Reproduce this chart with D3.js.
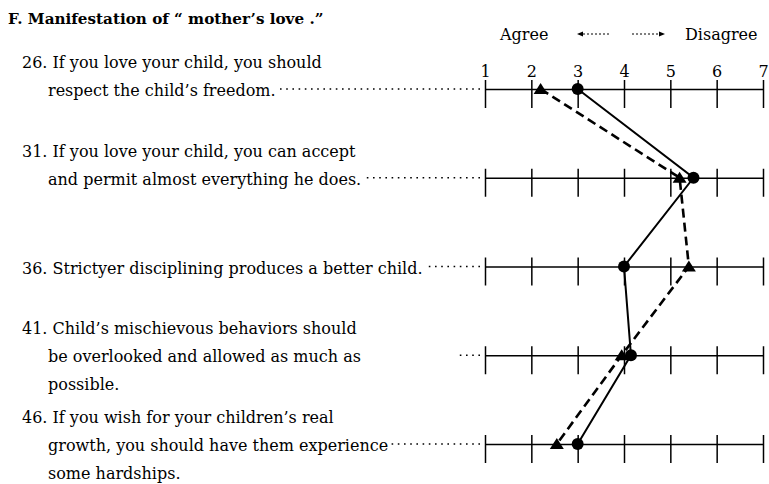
<!DOCTYPE html>
<html>
<head>
<meta charset="utf-8">
<script src="https://cdn.jsdelivr.net/npm/d3@7"></script>
<style>
  body { margin: 0; background: #fff; }
  text { fill: #000; }
</style>
</head>
<body>
<svg id="chart" width="769" height="484"></svg>
<script>
// ---------------- DATA ----------------
const titleText = "F. Manifestation of \u201C mother\u2019s love .\u201D";
const agreeLabel = "Agree";
const disagreeLabel = "Disagree";
const scaleTicks = [1, 2, 3, 4, 5, 6, 7];
const itemLines = [
  ["26. If you love your child, you should", "respect the child\u2019s freedom."],
  ["31. If you love your child, you can accept", "and permit almost everything he does."],
  ["36. Strictyer disciplining produces a better child."],
  ["41. Child\u2019s mischievous behaviors should", "be overlooked and allowed as much as", "possible."],
  ["46. If you wish for your children\u2019s real", "growth, you should have them experience", "some hardships."]
];
const leaderLineIndex = [1, 1, 0, 1, 1];
const leaderShort = [false, false, false, true, false];
const circleSeries = [3.0, 5.5, 4.0, 4.15, 3.0];
const triangleSeries = [2.2, 5.2, 5.4, 3.95, 2.55];

// ---------------- LAYOUT ----------------
const W = 769, H = 484;
const serif = "'DejaVu Serif', 'Liberation Serif', serif";
const svg = d3.select("#chart").attr("width", W).attr("height", H);

const x = d3.scaleLinear().domain([1, 7]).range([485, 763]);
const y = d3.scalePoint().domain(d3.range(itemLines.length)).range([89, 444]);
const lineGap = 28;

// Title
svg.append("text")
  .attr("x", 8).attr("y", 24)
  .style("font-family", serif).style("font-weight", "bold").style("font-size", "15.2px")
  .text(titleText);

// Agree / Disagree header
svg.append("text").attr("x", 500).attr("y", 40)
  .style("font-family", serif).style("font-size", "16px").text(agreeLabel);
svg.append("text").attr("x", 685).attr("y", 40)
  .style("font-family", serif).style("font-size", "16px").text(disagreeLabel);

const arrowY = 34;
const arr = svg.append("g").attr("stroke", "#000");
arr.append("line").attr("x1", 583).attr("x2", 611).attr("y1", arrowY).attr("y2", arrowY)
  .attr("stroke-width", 1).attr("stroke-dasharray", "2,2");
arr.append("path").attr("d", `M577,${arrowY}l6,-2.6v5.2z`).attr("fill", "#000").attr("stroke", "none");
arr.append("line").attr("x1", 632).attr("x2", 659).attr("y1", arrowY).attr("y2", arrowY)
  .attr("stroke-width", 1).attr("stroke-dasharray", "2,2");
arr.append("path").attr("d", `M665,${arrowY}l-6,-2.6v5.2z`).attr("fill", "#000").attr("stroke", "none");

// Axes (one per statement)
itemLines.forEach((_, i) => {
  const g = svg.append("g")
    .attr("transform", `translate(0,${y(i)})`)
    .call(d3.axisBottom(x).tickValues(scaleTicks).tickSizeOuter(0).tickSizeInner(19)
      .tickFormat(i === 0 ? d3.format("d") : () => ""));
  g.select(".domain").attr("stroke", "#000").attr("stroke-width", 1.5);
  g.selectAll(".tick line").attr("y1", -9).attr("y2", 19).attr("stroke", "#000").attr("stroke-width", 1.5);
  g.selectAll(".tick text")
    .attr("y", -12).attr("dy", 0)
    .style("font-family", serif).style("font-size", "16px").attr("fill", "#000");
});

// Statement texts with leader dots
itemLines.forEach((lines, i) => {
  lines.forEach((ln, j) => {
    const tx = j === 0 ? 22 : 48;
    const ty = y(i) + 7 + (j - leaderLineIndex[i]) * lineGap;
    const t = svg.append("text")
      .attr("x", tx).attr("y", ty)
      .style("font-family", serif).style("font-size", "16px")
      .text(ln);
    if (j === leaderLineIndex[i]) {
      const endX = x(1) - 5;
      const startX = leaderShort[i] ? endX - 21 : tx + t.node().getComputedTextLength() + 3;
      svg.append("line")
        .attr("x1", endX).attr("x2", startX)
        .attr("y1", y(i)).attr("y2", y(i))
        .attr("stroke", "#000").attr("stroke-width", 1.6)
        .attr("stroke-dasharray", "1.6,4.6");
    }
  });
});

// Series lines
const circleData = circleSeries.map((v, i) => ({ v, i }));
const triData = triangleSeries.map((v, i) => ({ v, i }));
const lineGen = d3.line().x(d => x(d.v)).y(d => y(d.i));

svg.append("path").datum(triData)
  .attr("d", lineGen).attr("fill", "none").attr("stroke", "#000")
  .attr("stroke-width", 2.6).attr("stroke-dasharray", "9,5");
svg.append("path").datum(circleData)
  .attr("d", lineGen).attr("fill", "none").attr("stroke", "#000")
  .attr("stroke-width", 2);

// Markers
svg.selectAll("circle.pt").data(circleData).enter().append("circle")
  .attr("class", "pt")
  .attr("cx", d => x(d.v)).attr("cy", d => y(d.i)).attr("r", 6).attr("fill", "#000");
svg.selectAll("path.tri").data(triData).enter().append("path")
  .attr("class", "tri")
  .attr("transform", d => `translate(${x(d.v)},${y(d.i)})`)
  .attr("d", "M0,-6L7,5L-7,5Z").attr("fill", "#000");
</script>
</body>
</html>
